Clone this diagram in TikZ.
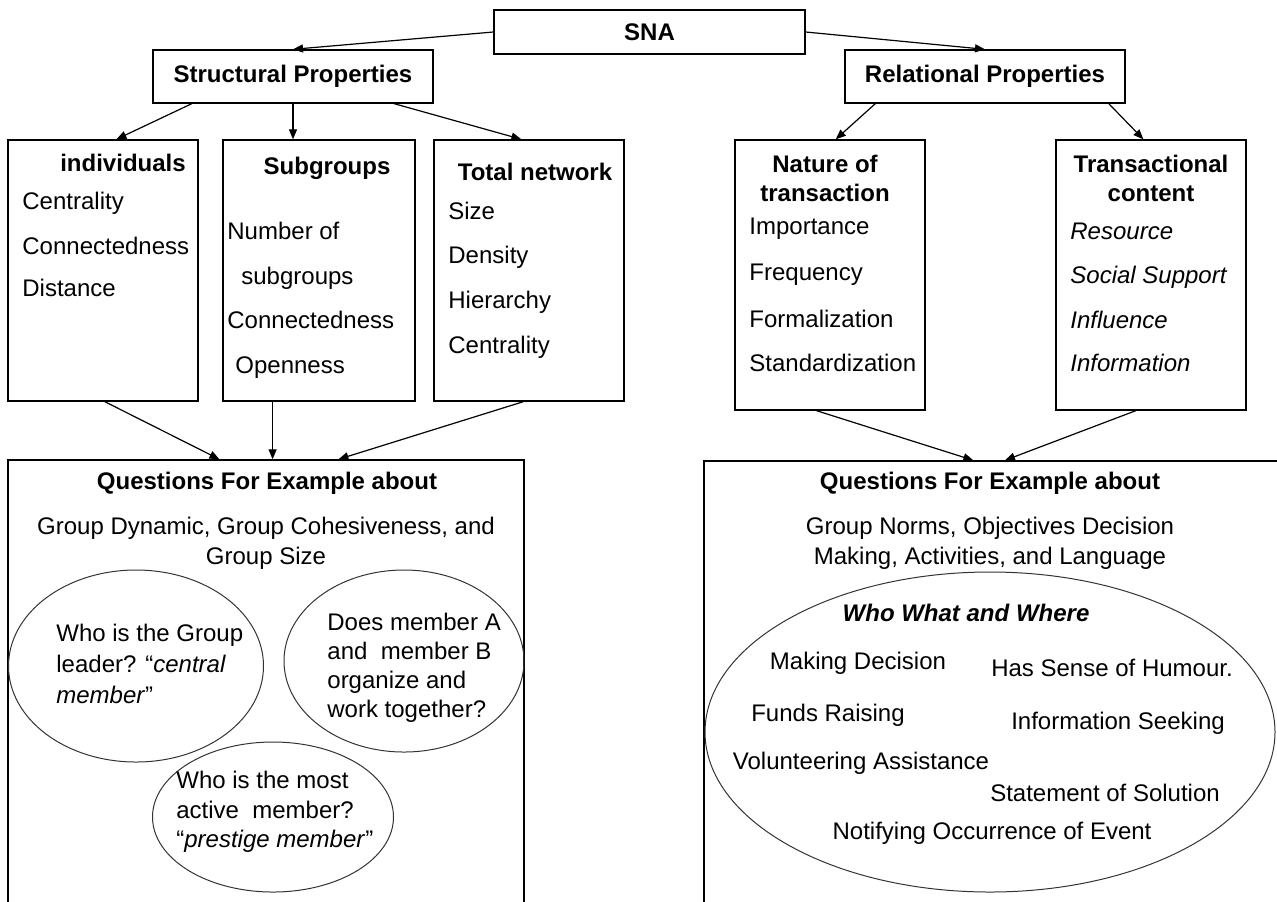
\documentclass[tikz,border=0pt]{standalone}
\usepackage{fontspec}
\setmainfont{Liberation Sans}
\usetikzlibrary{arrows.meta,calc,fit,shapes.geometric}

\begin{document}
\begin{tikzpicture}[x=0.5pt,y=-0.5pt,font=\fontsize{12}{15}\selectfont,
   box/.style={draw,line width=0.7pt,inner sep=0pt},
   head/.style={font=\fontsize{12}{14.5}\selectfont\bfseries,align=center,inner sep=0pt},
   item/.style={anchor=west,inner sep=0pt,text height=9pt,text depth=2.6pt},
   qtext/.style={anchor=west,align=left,inner sep=0pt},
   bubble/.style={draw=black!80,ellipse,line width=0.5pt,inner sep=0pt},
   arr/.style={-{Triangle[length=5pt,width=4pt]},line width=0.6pt}]
\useasboundingbox (0,0) rectangle (1277,901);
\clip (0,0) rectangle (1277,901);

\node[box,fit={(494,10) (805,54)}] (sna) {};
\node[box,fit={(153,50) (433,103)}] (sp) {};
\node[box,fit={(845,50) (1125,103)}] (rp) {};
\node[box,fit={(8,140) (198,401)}] (ind) {};
\node[box,fit={(223,140) (415,401)}] (sub) {};
\node[box,fit={(434,140) (624,401)}] (tot) {};
\node[box,fit={(735,140) (925,410)}] (nat) {};
\node[box,fit={(1056,140) (1246,410)}] (tra) {};
\node[box,fit={(8,460) (524,940)}] (qs) {};
\node[box,fit={(704,461) (1300,940)}] (qr) {};

\node[head] (snat) at (sna) {SNA};
\node[head] (spt) at (sp) {Structural Properties};
\node[head] (rpt) at (rp) {Relational Properties};
\node[head] (indt) at (123,163) {individuals};
\node[head] (subt) at (327,168) {Subgroups};
\node[head] (tott) at (535,172) {Total network};
\node[head] (natt) at (825,178) {Nature of\\transaction};
\node[head] (trat) at (1151,178) {Transactional\\content};

\foreach \t/\y [count=\i] in {Centrality/203,Connectedness/248,Distance/290}
  \node[item] (ind\i) at (22,\y) {\t};
\foreach \x/\t/\y [count=\i] in {227/Number of/233,241/subgroups/278,227/Connectedness/322,235/Openness/367}
  \node[item] (sub\i) at (\x,\y) {\t};
\foreach \t/\y [count=\i] in {Size/213,Density/257,Hierarchy/302,Centrality/347}
  \node[item] (tot\i) at (448,\y) {\t};
\foreach \t/\y [count=\i] in {Importance/228,Frequency/274,Formalization/321,Standardization/365}
  \node[item] (nat\i) at (749,\y) {\t};
\foreach \t/\y [count=\i] in {Resource/233,Social Support/277,Influence/322,Information/365}
  \node[item,font=\fontsize{12}{15}\selectfont\itshape] (tra\i) at (1070,\y) {\t};

\node[head] (qst) at (267,483) {Questions For Example about};
\node[align=center,inner sep=0pt] (qsd) at (266,543) {Group Dynamic, Group Cohesiveness, and\\Group Size};
\node[head] (qrt) at (990,483) {Questions For Example about};
\node[align=center,inner sep=0pt] (qrd) at (990,543) {Group Norms, Objectives Decision\\Making, Activities, and Language};

\node[bubble,minimum width=127.5pt,minimum height=96pt] (e1) at (136,666) {};
\node[bubble,minimum width=120pt,minimum height=91pt] (e2) at (404,661) {};
\node[bubble,minimum width=120.5pt,minimum height=75pt] (e3) at (273,817) {};
\node[bubble,minimum width=285pt,minimum height=160pt] (e4) at (990,732) {};

\node[qtext,font=\fontsize{12}{15.5}\selectfont] (e1t) at (56,664)
  {Who is the Group\\leader? “\textit{central}\\\textit{member}”};
\node[qtext,font=\fontsize{12}{14.5}\selectfont] (e2t) at (327,668)
  {Does member A\\and\ \ member B\\organize and\\work together?};
\node[qtext,font=\fontsize{12}{14.75}\selectfont] (e3t) at (176,812)
  {Who is the most\\active\ \ member?\\“\textit{prestige member}”};

\node[head,font=\fontsize{12}{14.5}\selectfont\bfseries\itshape] (www) at (966,613) {Who What and Where};
\foreach \x/\y/\t [count=\i] in {858/663/Making Decision,1112/668/Has Sense of Humour.,
    828/715/Funds Raising,1118/723/Information Seeking,861/763/Volunteering Assistance,
    1105/793/Statement of Solution,992/833/Notifying Occurrence of Event}
  \node[inner sep=0pt] (w\i) at (\x,\y) {\t};

\draw[arr] (sna.west) -- (sp.north);
\draw[arr] (sna.east) -- (rp.north);
\draw[arr] ($(sp.south west)!.14!(sp.south east)$) -- ($(ind.north west)!.57!(ind.north east)$);
\draw[arr] (sp.south) -- (sp.south |- sub.north);
\draw[arr] ($(sp.south west)!.86!(sp.south east)$) -- ($(tot.north west)!.46!(tot.north east)$);
\draw[arr] ($(rp.south west)!.11!(rp.south east)$) -- ($(nat.north west)!.53!(nat.north east)$);
\draw[arr] ($(rp.south west)!.94!(rp.south east)$) -- ($(tra.north west)!.46!(tra.north east)$);
\draw[arr] ($(ind.south west)!.51!(ind.south east)$) -- ($(qs.north west)!.41!(qs.north east)$);
\draw[arr] ($(sub.south west)!.26!(sub.south east)$) coordinate (s1) -- (s1 |- qs.north);
\draw[arr] ($(tot.south west)!.47!(tot.south east)$) -- ($(qs.north west)!.64!(qs.north east)$);
\draw[arr] ($(nat.south west)!.43!(nat.south east)$) -- ($(qr.north west)!.452!(qr.north east)$);
\draw[arr] ($(tra.south west)!.42!(tra.south east)$) -- ($(qr.north west)!.505!(qr.north east)$);
\end{tikzpicture}
\end{document}
